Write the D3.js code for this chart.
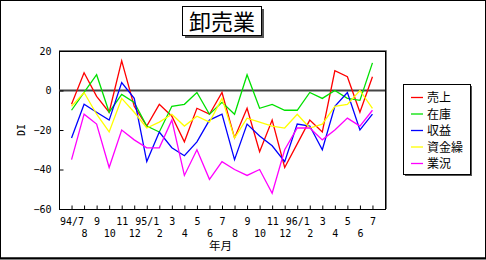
<!DOCTYPE html>
<html>
<head>
<meta charset="utf-8">
<script src="https://cdn.jsdelivr.net/npm/d3@7"></script>
<style>
body { margin: 0; background: #fff; }
svg { display: block; }
</style>
</head>
<body>
<div id="chart"></div>
<script>
var months = ["94/7","8","9","10","11","12","95/1","2","3","4","5","6","7","8","9","10","11","12","96/1","2","3","4","5","6","7"]
var uriage     = [-7, 9, -3, -11, 15, -8, -18, -7, -13, -26, -9, -12, -1, -24, -9, -31, -15, -39, -27, -15, -21, 10, 7, -11, 7]
var zaiko      = [-10, -1, 8, -11, -2, -6, -18, -21, -8, -7, -1, -12, -6, -12, 8, -9, -7, -10, -10, -1, -4, 0, -4, -5, 14]
var shueki     = [-24, -7, -11, -15, 4, -4, -36, -21, -29, -33, -26, -15, -12, -35, -17, -23, -28, -36, -17, -18, -30, -8, -1, -20, -12]
var shikinguri = [-8, -1, -12, -21, -4, -11, -19, -16, -12, -18, -13, -16, -4, -24, -14, -16, -18, -19, -12, -19, -17, -8, -7, 0, -9]
var gyokyo     = [-35, -12, -17, -39, -20, -25, -29, -29, -15, -43, -30, -45, -36, -40, -43, -40, -52, -30, -19, -19, -25, -20, -14, -18, -10]
var seriesNames = ["売上", "在庫", "収益", "資金繰", "業況"]
var yTicks = [20, 0, -20, -40, -60]

var width = 486
var height = 260
var colors = ["#ff0000", "#00e000", "#0000ff", "#ffff00", "#ff00ff"]
var series = [uriage, zaiko, shueki, shikinguri, gyokyo].map(function(v, i){
	return {name: seriesNames[i], values: v, color: colors[i]}
})

var svg = d3.select("#chart").append("svg")
	.attr("width", width)
	.attr("height", height)

// outer frame
svg.append("rect")
	.attr("x", 0.5).attr("y", 0.5)
	.attr("width", width - 1).attr("height", height - 2.5)
	.attr("fill", "none").attr("stroke", "#000")
svg.append("line")
	.attr("x1", 0).attr("x2", width).attr("y1", 258.5).attr("y2", 258.5)
	.attr("stroke", "#000").attr("stroke-width", 2)

var plot = {left: 59, top: 51, right: 385, bottom: 209}

var x = d3.scalePoint()
	.domain(d3.range(months.length))
	.range([plot.left, plot.right])
	.padding(1)
var y = d3.scaleLinear()
	.domain([-60, 20])
	.range([plot.bottom, plot.top])

// title box
svg.append("rect")
	.attr("x", 185).attr("y", 9).attr("width", 79).attr("height", 29)
	.attr("fill", "#555")
svg.append("rect")
	.attr("x", 182.5).attr("y", 6.5).attr("width", 79).attr("height", 29)
	.attr("fill", "#fff").attr("stroke", "#000")
svg.append("text")
	.attr("x", 222).attr("y", 30)
	.attr("text-anchor", "middle")
	.attr("font-family", "Noto Sans CJK JP")
	.attr("font-size", 22)
	.text("卸売業")

// plot frame
svg.append("rect")
	.attr("x", plot.left + 0.5).attr("y", plot.top + 0.5)
	.attr("width", plot.right - plot.left).attr("height", plot.bottom - plot.top)
	.attr("fill", "none").attr("stroke", "#000")
svg.append("path")
	.attr("d", "M" + plot.left + "," + (plot.top - 0.5) + "H" + (plot.right + 1.5) + "V" + plot.bottom)
	.attr("fill", "none").attr("stroke", "#777")

// zero line
svg.append("line")
	.attr("x1", plot.left).attr("x2", plot.right)
	.attr("y1", y(0)).attr("y2", y(0))
	.attr("stroke", "#444").attr("stroke-width", 2)

var font = "DejaVu Sans Mono, monospace"

var gy = svg.append("g")
	.attr("transform", "translate(" + (plot.left + 0.5) + ",0)")
	.call(d3.axisLeft(y).tickValues(yTicks).tickSize(-4).tickPadding(8))
gy.select(".domain").remove()
gy.selectAll("text").attr("font-family", font).attr("font-size", 10).attr("fill", "#000")

var gx = svg.append("g")
	.attr("transform", "translate(0," + (plot.bottom + 0.5) + ")")
	.call(d3.axisBottom(x).tickSize(-4).tickFormat(function(i){ return months[i] }))
gx.select(".domain").remove()
gx.selectAll("text")
	.attr("font-family", font).attr("font-size", 10).attr("fill", "#000")
	.attr("dy", null)
	.attr("y", function(i){ return i % 2 == 0 ? 15 : 27 })

svg.append("text")
	.attr("x", 220.5).attr("y", 250)
	.attr("text-anchor", "middle")
	.attr("font-family", "Noto Sans CJK JP")
	.attr("font-size", 11.5)
	.text("年月")

svg.append("text")
	.attr("transform", "translate(25," + ((plot.top + plot.bottom) / 2) + ") rotate(-90)")
	.attr("text-anchor", "middle")
	.attr("font-family", font)
	.attr("font-size", 10)
	.text("DI")

var line = d3.line()
	.x(function(d, i){ return x(i) })
	.y(function(d){ return y(d) })

svg.selectAll("path.series")
	.data(series).enter()
	.append("path")
	  .classed("series", true)
	  .attr("d", function(d){ return line(d.values) })
	  .attr("fill", "none")
	  .attr("stroke", function(d){ return d.color })
	  .attr("stroke-width", 1.3)

// legend
var lg = {x: 403, y: 84, w: 67, h: 90}
svg.append("rect")
	.attr("x", lg.x + 2).attr("y", lg.y + 2).attr("width", lg.w).attr("height", lg.h)
	.attr("fill", "#555")
svg.append("rect")
	.attr("x", lg.x + 0.5).attr("y", lg.y + 0.5).attr("width", lg.w).attr("height", lg.h)
	.attr("fill", "#fff").attr("stroke", "#000")
var items = svg.selectAll("g.item")
	.data(series).enter()
	.append("g")
	  .classed("item", true)
	  .attr("transform", function(d, i){ return "translate(" + (lg.x + 8) + "," + (lg.y + 13.5 + i * 16.5) + ")" })
items.append("line")
	.attr("x1", 0).attr("x2", 12)
	.attr("stroke", function(d){ return d.color })
	.attr("stroke-width", 1.3)
items.append("text")
	.attr("x", 16).attr("y", 4.5)
	.attr("font-family", "Noto Sans CJK JP")
	.attr("font-size", 12)
	.text(function(d){ return d.name })
</script>
</body>
</html>
